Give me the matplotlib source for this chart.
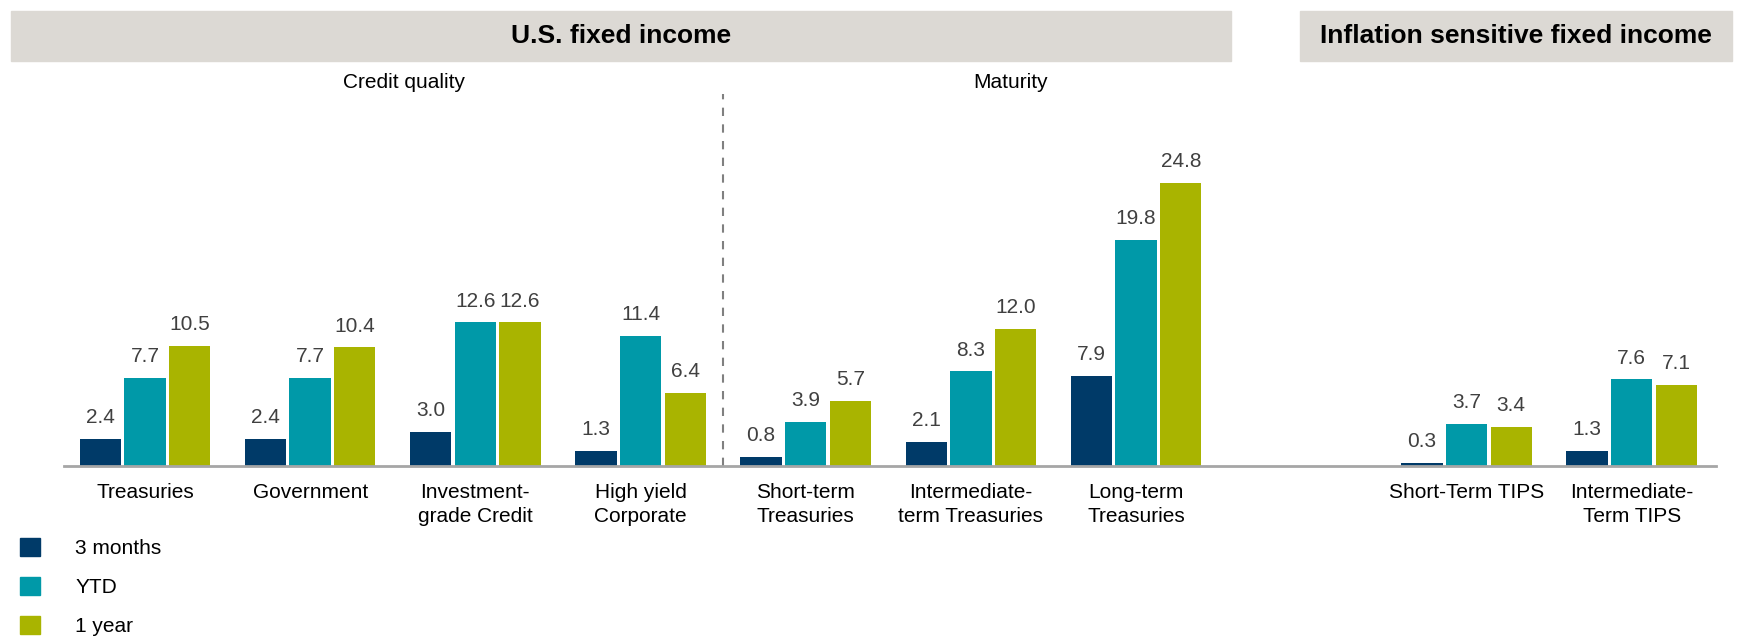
import matplotlib
matplotlib.use("Agg")
import matplotlib.pyplot as plt
import matplotlib.transforms as mtransforms
from matplotlib.patches import Patch, Rectangle
import numpy as np

plt.rcParams['font.family'] = ['Liberation Sans', 'DejaVu Sans']

# Data
categories = ["Treasuries", "Government", "Investment-\ngrade Credit", "High yield\nCorporate",
              "Short-term\nTreasuries", "Intermediate-\nterm Treasuries", "Long-term\nTreasuries",
              "Short-Term TIPS", "Intermediate-\nTerm TIPS"]
slots = [0, 1, 2, 3, 4, 5, 6, 8, 9]
three_months = [2.4, 2.4, 3.0, 1.3, 0.8, 2.1, 7.9, 0.3, 1.3]
ytd = [7.7, 7.7, 12.6, 11.4, 3.9, 8.3, 19.8, 3.7, 7.6]
one_year = [10.5, 10.4, 12.6, 6.4, 5.7, 12.0, 24.8, 3.4, 7.1]
series_names = ["3 months", "YTD", "1 year"]
colors = ["#003a68", "#0099a8", "#a9b400"]

W, H = 1739, 637
fig = plt.figure(figsize=(W / 100, H / 100), dpi=100)
ax = fig.add_axes([64 / W, 1 - 466 / H, (1716 - 64) / W, (466 - 124) / H])

x = np.array(slots, dtype=float)
bw, step = 0.25, 0.27
txt_col = "#404040"
for i, (vals, col) in enumerate(zip([three_months, ytd, one_year], colors)):
    xs = x + (i - 1) * step
    bars = ax.bar(xs, vals, width=bw, color=col, label=series_names[i], zorder=2)
    for b, v in zip(bars, vals):
        ax.annotate(f"{v:.1f}", (b.get_x() + b.get_width() / 2, v), xytext=(0, 8.5),
                    textcoords="offset points", ha="center", va="bottom",
                    fontsize=15, color=txt_col)

ax.set_xlim(-0.49, 9.51)
ax.set_ylim(0, 30)
ax.set_xticks(x)
ax.set_xticklabels(categories, fontsize=15, linespacing=1.3)
ax.tick_params(axis="x", length=0, pad=12.5)
ax.set_yticks([])
for s in ["top", "right", "left"]:
    ax.spines[s].set_visible(False)
ax.spines["bottom"].set_color("#a6a6a6")
ax.spines["bottom"].set_linewidth(2)

# dashed separator between credit quality and maturity
ax.plot([3.5, 3.5], [0, 32.6], ls=(0, (4, 4)), color="#808080", lw=1.5, clip_on=False)

# header bands
band = "#dcd9d4"
fig.add_artist(Rectangle((11 / W, 1 - 61 / H), (1231 - 11) / W, 50 / H,
                         transform=fig.transFigure, color=band, zorder=0))
fig.add_artist(Rectangle((1300 / W, 1 - 61 / H), (1732 - 1300) / W, 50 / H,
                         transform=fig.transFigure, color=band, zorder=0))
fig.text(621 / W, 1 - 36 / H, "U.S. fixed income", ha="center", va="center",
         fontsize=19, fontweight="bold", color="black")
fig.text(1516 / W, 1 - 36 / H, "Inflation sensitive fixed income", ha="center", va="center",
         fontsize=19, fontweight="bold", color="black")

trans = mtransforms.blended_transform_factory(ax.transData, fig.transFigure)
ax.text(1.57, 1 - 83 / H, "Credit quality", transform=trans, ha="center", va="center",
        fontsize=15, color="black")
ax.text(5.24, 1 - 83 / H, "Maturity", transform=trans, ha="center", va="center",
        fontsize=15, color="black")

handles = [Patch(color=c) for c in colors]
fig.legend(handles, series_names, loc="upper left", bbox_to_anchor=(20 / W, 1 - 538 / H),
           frameon=False, fontsize=15, handlelength=0.95, handleheight=0.95,
           handletextpad=1.7, labelspacing=0.9, borderpad=0, borderaxespad=0)

fig.savefig("out.png", dpi=100)
